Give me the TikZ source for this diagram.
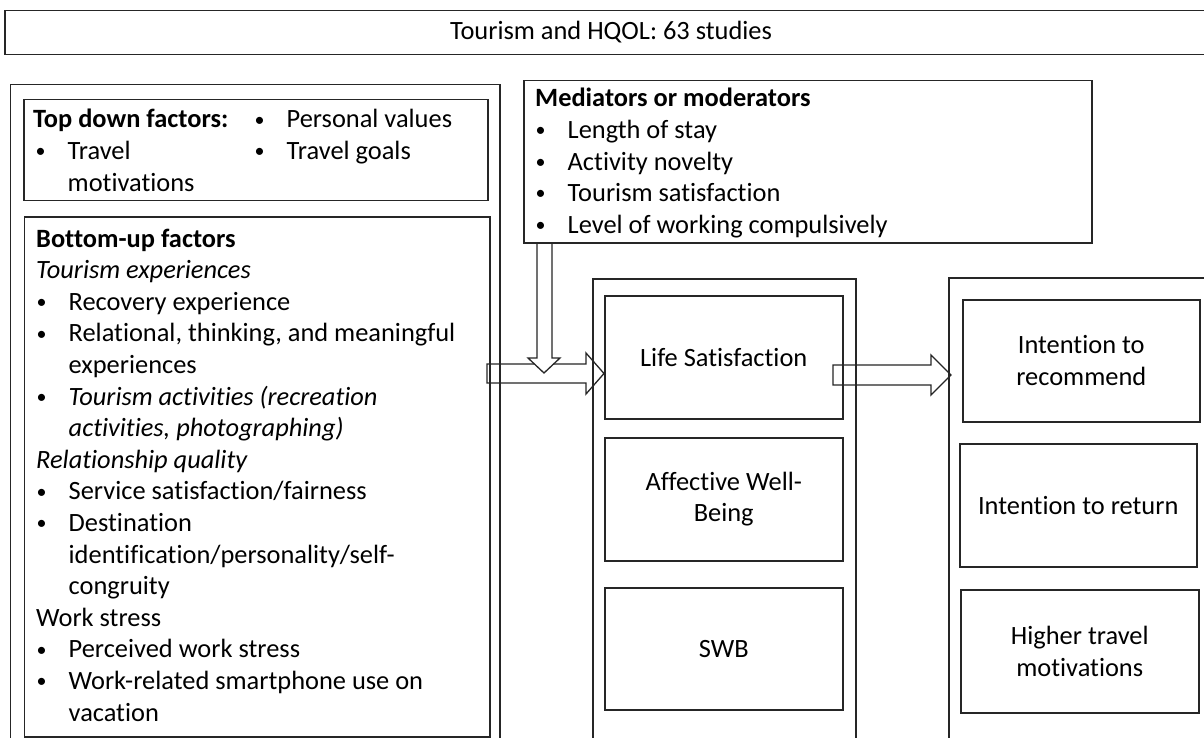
\documentclass[tikz,border=0pt]{standalone}
\usepackage{fontspec}
\setmainfont{Carlito}[Ligatures={CommonOff,ContextualOff}]
\usetikzlibrary{calc}
\newcommand{\bl}{\makebox[32.5pt][l]{\hspace{0.5pt}\raisebox{1.8pt}{\fontsize{20}{20}\selectfont\textbullet}}}
\newcommand{\ind}{\hspace*{32.5pt}}
\newcommand{\lst}[2]{\begin{minipage}[t]{#1}\raggedright\setlength{\parindent}{0pt}#2\end{minipage}}
\begin{document}
\begin{tikzpicture}[x=1pt,y=-1pt,
  every node/.style={font=\fontsize{26.4}{31.6}\selectfont, text=black},
  box/.style={draw=black!85, line width=1.5pt, inner sep=0pt, anchor=north west, align=center},
  txt/.style={inner sep=0pt, anchor=base west},
  barrow/.style={draw=black!85, line width=1.3pt, fill=white, line join=miter}]
\useasboundingbox (0,0) rectangle (1204,738);
\fill[white] (0,0) rectangle (1204,738);

% block arrows (drawn first, boxes outlines on top)
\coordinate (la0) at (487,373.5);
\coordinate (latip) at (604,373.5);
\draw[barrow] ($(la0)+(0,-9.5)$) -- (586,364) -- (586,353) -- (latip) -- (586,394) -- (586,383) -- ($(la0)+(0,9.5)$) -- cycle;
\coordinate (va0) at (544.5,242);
\coordinate (vatip) at (544,373);
\draw[barrow] (537,242) -- (537,358) -- (528,358) -- (vatip) -- (560,358) -- (552,358) -- (552,242);
\coordinate (ra0) at (833,375);
\coordinate (ratip) at (951,375);
\draw[barrow] (ra0) ++(0,-10) -- (931,365) -- (931,355) -- (ratip) -- (931,395) -- (931,385) -- (833,385) -- cycle;

% title
\node[box, minimum width=1220pt, minimum height=44pt] (title) at (4,10) {};
\node[txt, anchor=base] (titletext) at (611,40) {Tourism and HQOL: 63 studies};

% left column
\node[box, minimum width=489.5pt, minimum height=670pt] (left) at (9.5,84) {};
\node[box, minimum width=464pt, minimum height=101pt] (topdown) at (23,99) {};
\node[box, minimum width=465.5pt, minimum height=520pt] (bottomup) at (23.5,216) {};

\node[txt] (tdhead) at (33,128) {\lst{220pt}{\textbf{Top down factors:}\\
\hspace*{2pt}\bl Travel\\
\hspace*{2pt}\ind motivations}};
\node[txt] (tdcol2) at (254,128) {\lst{220pt}{\bl Personal values\\
\bl Travel goals}};

\node[txt] (bulist) at (36,247) {\lst{450pt}{\textbf{Bottom-up factors}\\
\textit{Tourism experiences}\\
\bl Recovery experience\\
\bl Relational, thinking, and meaningful\\
\ind experiences\\
\bl \textit{Tourism activities (recreation}\\
\ind \textit{activities, photographing)}\\
\textit{Relationship quality}\\
\bl Service satisfaction/fairness\\
\bl Destination\\
\ind identification/personality/self-\\
\ind congruity\\
Work stress\\
\bl Perceived work stress\\
\bl Work-related smartphone use on\\
\ind vacation}};

% mediators
\node[box, minimum width=568pt, minimum height=162pt] (med) at (523,80) {};
\node[txt] (medlist) at (535,107) {\lst{540pt}{\textbf{Mediators or moderators}\\
\bl Length of stay\\
\bl Activity novelty\\
\bl Tourism satisfaction\\
\bl Level of working compulsively}};

% middle column
\node[box, minimum width=263pt, minimum height=480pt] (mid) at (592,278) {};
\node[box, minimum width=238pt, minimum height=123pt] (ls) at (604,295) {Life Satisfaction};
\node[box, minimum width=238pt, minimum height=123pt] (awb) at (604,437) {Affective Well-\\Being};
\node[box, minimum width=238pt, minimum height=122pt] (swb) at (604,587) {SWB};

% right column
\node[box, minimum width=270pt, minimum height=480pt] (right) at (948,277) {};
\node[box, minimum width=237pt, minimum height=122pt] (rec) at (962,299) {Intention to\\recommend};
\node[box, minimum width=237pt, minimum height=123pt] (ret) at (959,443) {Intention to return};
\node[box, minimum width=238pt, minimum height=123pt] (hig) at (960,589) {Higher travel\\motivations};
\end{tikzpicture}
\end{document}
